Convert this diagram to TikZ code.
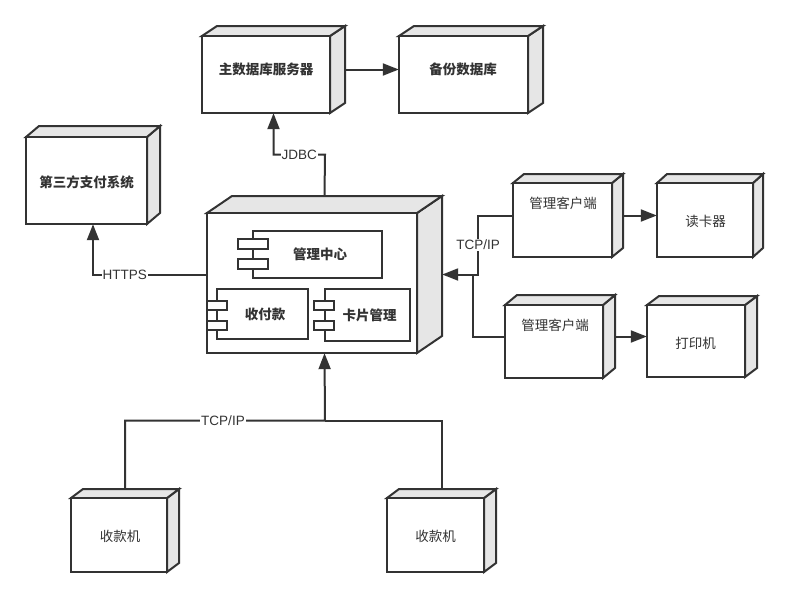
\documentclass[tikz,border=0pt]{standalone}
\usepackage{fontspec}
\setmainfont{Liberation Sans}
\newfontfamily\cjk{Noto Sans CJK SC}
\usetikzlibrary{arrows.meta}
\definecolor{lc}{HTML}{333333}
\definecolor{sc}{HTML}{E6E6E6}
\tikzset{
  face/.style={draw=lc, line width=2pt},
  ln/.style={draw=lc, line width=2pt},
  arr/.style={ln, -{Triangle[length=16pt,width=12pt]}},
  lbl/.style={fill=white, inner sep=1pt, text=lc, font=\fontsize{13.5}{14}\selectfont},
  btxt/.style={inner sep=0pt, text=lc, font=\cjk\bfseries\fontsize{13.5}{14}\selectfont},
  rtxt/.style={inner sep=0pt, text=lc, font=\cjk\fontsize{13.5}{14}\selectfont},
  comp/.style={face, fill=white, inner sep=0pt, font=\cjk\bfseries\fontsize{13.5}{14}\selectfont, text=lc},
  tab/.style={face, fill=white, inner sep=0pt},
}
% name, x1, y1, x2, y2, dx, dy  (front face, depth)
\newcommand\boxthree[7]{%
  \filldraw[face, fill=sc] (#4,#3) -- ++(#6,-#7) -- ({#4+#6},{#5-#7}) -- (#4,#5) -- cycle;
  \filldraw[face, fill=sc] (#2,#3) -- ++(#6,-#7) -- ({#4+#6},{#3-#7}) -- (#4,#3) -- cycle;
  \filldraw[face, fill=white] (#2,#3) rectangle (#4,#5);
  \node[inner sep=0pt, minimum width={(#4+#6-#2)*1pt}, minimum height={(#5-#3+#7)*1pt}]
    (#1) at ({(#2+#4+#6)/2},{(#3-#7+#5)/2}) {};
}
\begin{document}
\begin{tikzpicture}[x=1pt, y=-1pt]
\useasboundingbox (0,0) rectangle (791,597);

% boxes
\boxthree{db}{202}{36}{330}{113}{15}{10}
\boxthree{bak}{399}{36}{528}{113}{15}{10}
\boxthree{pay}{26}{137}{147}{224}{13}{11}
\boxthree{core}{207}{213}{417}{353}{25}{17}
\boxthree{cl1}{513}{183}{612}{257}{11}{9}
\boxthree{rdr}{657}{183}{753}{257}{10}{9}
\boxthree{cl2}{505}{305}{603}{378}{12}{10}
\boxthree{prn}{647}{305}{745}{377}{12}{9}
\boxthree{pos1}{71}{498}{167}{572}{12}{9}
\boxthree{pos2}{387}{498}{484}{572}{12}{9}

% box texts
\node[btxt] (dbt) at (266,69) {主数据库服务器};
\node[btxt] (bakt) at (463,69) {备份数据库};
\node[btxt] (payt) at (86.5,182.5) {第三方支付系统};
\node[rtxt] (cl1t) at (563,203) {管理客户端};
\node[rtxt] (rdrt) at (705.5,221.5) {读卡器};
\node[rtxt] (cl2t) at (555,325) {管理客户端};
\node[rtxt] (prnt) at (695.5,343) {打印机};
\node[rtxt] (pos1t) at (120,536.5) {收款机};
\node[rtxt] (pos2t) at (435.5,536.5) {收款机};

% components
\node[comp, minimum width=129pt, minimum height=47pt] (mgc) at (317.5,254.5) {\hspace*{5pt}管理中心};
\node[tab, minimum width=30pt, minimum height=10pt] (mgca) at (253,244) {};
\node[tab, minimum width=30pt, minimum height=10pt] (mgcb) at (253,263.5) {};
\node[comp, minimum width=91pt, minimum height=50pt] (sfk) at (262.5,314) {\hspace*{5pt}收付款};
\node[tab, minimum width=20pt, minimum height=9pt] (sfka) at (217,305.5) {};
\node[tab, minimum width=20pt, minimum height=9pt] (sfkb) at (217,325.3) {};
\node[comp, minimum width=85pt, minimum height=52pt] (kpg) at (367.5,315) {\hspace*{4pt}卡片管理};
\node[tab, minimum width=20pt, minimum height=9pt] (kpga) at (324,305.5) {};
\node[tab, minimum width=20pt, minimum height=9pt] (kpgb) at (324,325.3) {};

% junctions
\coordinate (j1) at (478,274.5);
\coordinate (j2) at (473,274.5);
\coordinate (j3) at (325,420.7);
\coordinate (jd) at (325,154.5);

% connectors
\draw[arr] (db.east) -- (bak.west);
\draw[arr] (core.north) -- (jd) -- node[lbl]{JDBC} (db.south |- jd) -- (db.south);
\draw[arr] (core.west) -| node[lbl, pos=0.36]{HTTPS} (pay.south);
\draw[arr] (cl1.west) -| node[lbl, pos=0.75]{TCP/IP} (j1) -- (core.east);
\draw[ln] (cl2.west) -| (j2);
\draw[arr] (cl1.east) -- (rdr.west);
\draw[arr] (cl2.east) -- (prn.west);
\draw[arr] (pos1.north) |- node[lbl, pos=0.745]{TCP/IP} (j3) -- (core.south);
\draw[ln] (pos2.north) |- (j3);
\end{tikzpicture}
\end{document}
